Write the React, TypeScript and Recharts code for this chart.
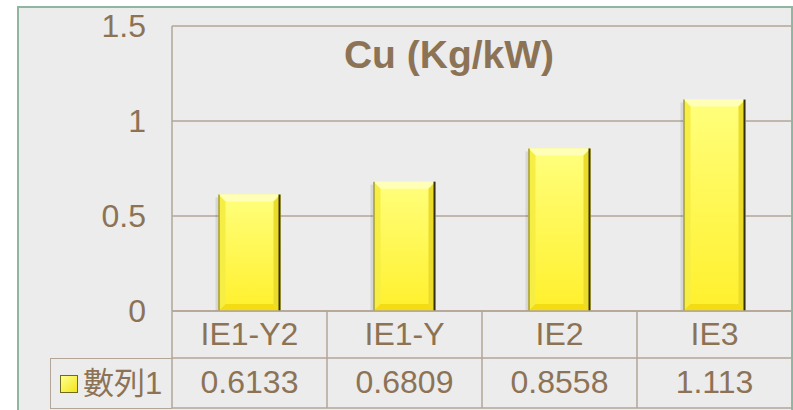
import React from 'react'
import { BarChart, Bar, XAxis, YAxis, CartesianGrid } from 'recharts'

const categories = ['IE1-Y2', 'IE1-Y', 'IE2', 'IE3']
const series1 = [0.6133, 0.6809, 0.8558, 1.113]
const valueLabels = ['0.6133', '0.6809', '0.8558', '1.113']
const yTicks = [0, 0.5, 1, 1.5]
const seriesName = '數列1'
const title = 'Cu (Kg/kW)'

const data = categories.map((name, i) => ({ name, value: series1[i], label: valueLabels[i] }))

const W = 793
const H = 410
const PLOT_LEFT = 172
const PLOT_W = 620
const TEXT = '#8c7356'
const GRID = '#b3a698'
const FONT = '"Liberation Sans", Arial, "Noto Sans CJK TC", sans-serif'

function BevelBar(props: any) {
  const { x, y, width: w, height: h } = props
  if (!h || h <= 0) return null
  const b = 7
  return (
    <g>
      <rect x={x - 3} y={y + 3} width={w} height={h - 3} fill="rgba(0,0,0,0.09)" />
      <rect x={x} y={y} width={w} height={h} fill="url(#barFace)" />
      <polygon points={`${x},${y} ${x + w},${y} ${x + w - b},${y + b} ${x + b},${y + b}`} fill="#ffffb8" />
      <polygon points={`${x},${y} ${x + b},${y + b} ${x + b},${y + h - b} ${x},${y + h}`} fill="#f6ee44" />
      <polygon points={`${x + w},${y} ${x + w - b},${y + b} ${x + w - b},${y + h - b} ${x + w},${y + h}`} fill="#ebdc2c" />
      <polygon points={`${x},${y + h} ${x + b},${y + h - b} ${x + w - b},${y + h - b} ${x + w},${y + h}`} fill="#f4dc14" />
      <line x1={x + 0.5} y1={y} x2={x + 0.5} y2={y + h} stroke="#8a8838" strokeWidth={1.2} />
      <line x1={x + w - 1} y1={y} x2={x + w - 1} y2={y + h} stroke="#34300f" strokeWidth={2} />
    </g>
  )
}

function TableTick(props: any) {
  const { x, y, payload, index } = props
  const bw = PLOT_W / categories.length
  const row = data[index] ?? data.find((d) => d.name === payload.value)
  const left = x - bw / 2
  return (
    <g>
      <line x1={left} y1={y} x2={left} y2={y + 97} stroke={GRID} strokeWidth={1.5} />
      <line x1={left} y1={y + 47} x2={left + bw} y2={y + 47} stroke={GRID} strokeWidth={1.5} />
      <line x1={left} y1={y + 97} x2={left + bw} y2={y + 97} stroke={GRID} strokeWidth={1.5} />
      <text x={x} y={y + 34} textAnchor="middle" fill={TEXT} fontSize={32} fontFamily={FONT}>
        {payload.value}
      </text>
      <text x={x} y={y + 82} textAnchor="middle" fill={TEXT} fontSize={32} fontFamily={FONT}>
        {row ? row.label : ''}
      </text>
    </g>
  )
}

export default function App() {
  return (
    <div style={{ position: 'absolute', left: 0, top: 0, width: W, height: H, background: '#fff', overflow: 'hidden', fontFamily: FONT }}>
      <div
        style={{
          position: 'absolute',
          left: 17,
          top: 6,
          width: 772,
          height: 430,
          background: '#ececec',
          border: '2px solid #90b6a2',
        }}
      />
      <div
        style={{
          position: 'absolute',
          left: 249,
          width: 400,
          top: 33,
          textAlign: 'center',
          fontSize: 39,
          fontWeight: 'bold',
          color: TEXT,
          lineHeight: '44px',
        }}
      >
        {title}
      </div>
      <div
        style={{
          position: 'absolute',
          left: 50,
          top: 358,
          width: 121,
          height: 49,
          borderLeft: `1.5px solid ${GRID}`,
          borderTop: `1.5px solid ${GRID}`,
          borderBottom: `1.5px solid ${GRID}`,
          display: 'flex',
          alignItems: 'center',
        }}
      >
        <div
          style={{
            marginLeft: 9,
            width: 16,
            height: 16,
            background: 'linear-gradient(135deg, #ffff90, #f3e41a)',
            border: '1px solid #6e6a20',
          }}
        />
        <span style={{ marginLeft: 5, fontSize: 31, color: TEXT, lineHeight: '30px' }}>{seriesName}</span>
      </div>
      <div style={{ position: 'absolute', left: 0, top: 0 }}>
        <BarChart
          width={W}
          height={H}
          data={data}
          margin={{ top: 26, right: W - PLOT_LEFT - PLOT_W, left: 0, bottom: 0 }}
          barCategoryGap="30%"
        >
          <defs>
            <linearGradient id="barFace" x1="0" y1="0" x2="0" y2="1">
              <stop offset="0%" stopColor="#ffff7c" />
              <stop offset="100%" stopColor="#fff02c" />
            </linearGradient>
          </defs>
          <CartesianGrid vertical={false} stroke={GRID} strokeWidth={1.5} />
          <XAxis
            dataKey="name"
            height={99}
            axisLine={{ stroke: GRID, strokeWidth: 1.5 }}
            tickLine={false}
            tickSize={0}
            tickMargin={0}
            interval={0}
            tick={<TableTick />}
          />
          <YAxis
            width={PLOT_LEFT}
            domain={[0, 1.5]}
            ticks={yTicks}
            axisLine={{ stroke: GRID, strokeWidth: 1.5 }}
            tickLine={false}
            tickSize={0}
            tickMargin={26}
            tick={{ fill: TEXT, fontSize: 32, fontFamily: FONT }}
          />
          <Bar dataKey="value" shape={<BevelBar />} isAnimationActive={false} />
        </BarChart>
      </div>
    </div>
  )
}
